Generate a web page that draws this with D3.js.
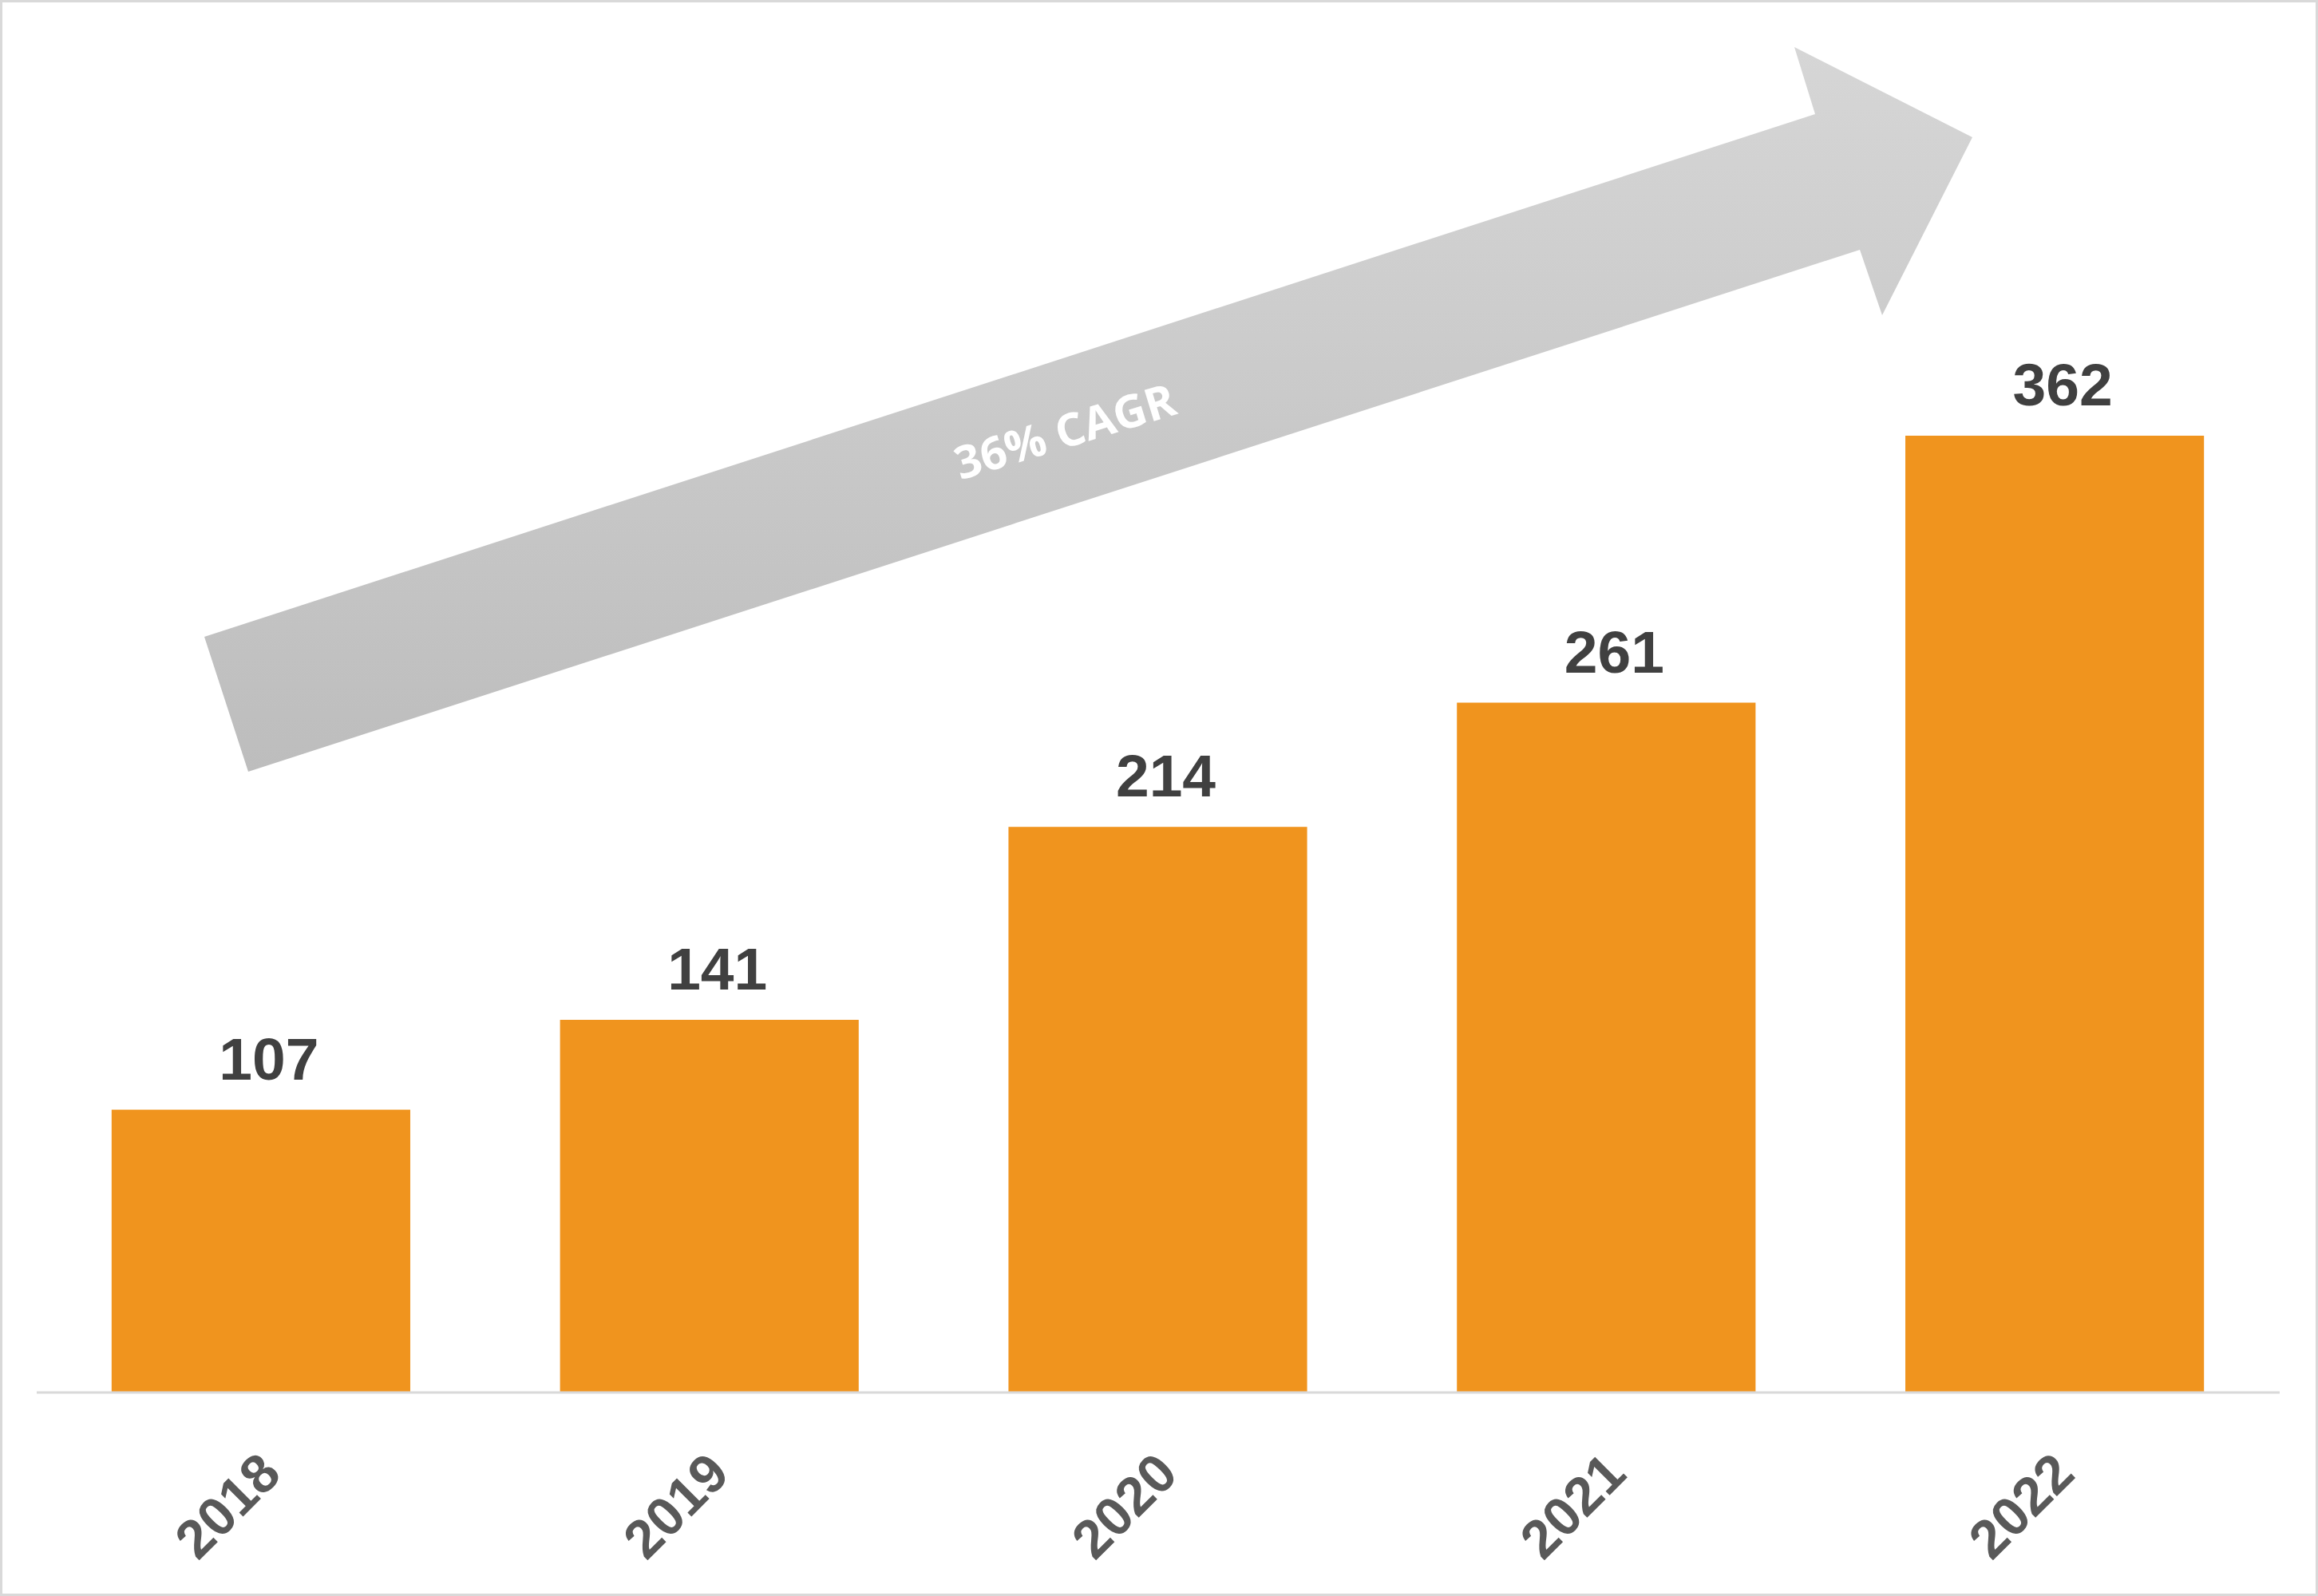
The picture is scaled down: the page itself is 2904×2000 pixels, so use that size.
<!DOCTYPE html>
<html>
<head>
<meta charset="utf-8">
<script src="https://cdn.jsdelivr.net/npm/d3@7/dist/d3.min.js"></script>
<style>
  html, body { margin: 0; padding: 0; background: #fff; }
  svg { display: block; }
  .lab { font-family: "Liberation Sans", sans-serif; font-weight: 700; }
  .cagr { font-family: "Open Sans", sans-serif; font-weight: 700; }
</style>
</head>
<body>
<script>
// ---- data ----
const categories = ["2018", "2019", "2020", "2021", "2022"];
const values = [107, 141, 214, 261, 362];
const cagrLabel = "36% CAGR";

// ---- layout ----
const W = 2904, H = 2000;
const baselineY = 1745;

const svg = d3.select("body").append("svg")
  .attr("width", W).attr("height", H);

svg.append("rect").attr("x", 1.5).attr("y", 1.5)
  .attr("width", W - 3).attr("height", H - 3)
  .attr("fill", "#fff").attr("stroke", "#d9d9d9").attr("stroke-width", 3);

const x = d3.scaleBand().domain(categories).range([46, 2855])
  .paddingInner(0.334).paddingOuter(0.167);
const y = d3.scaleLinear().domain([0, 362]).range([baselineY, 546]);

// bars
svg.append("g").selectAll("rect").data(values).join("rect")
  .attr("x", (d, i) => x(categories[i]))
  .attr("y", d => y(d))
  .attr("width", x.bandwidth())
  .attr("height", d => y(0) - y(d))
  .attr("fill", "#F0941E");

// baseline axis
const axis = svg.append("g").attr("transform", `translate(0,${baselineY})`)
  .call(d3.axisBottom(x).tickSize(0).tickFormat(""));
axis.select(".domain").attr("stroke", "#d9d9d9").attr("stroke-width", 3)
  .attr("d", "M46,0H2856");

// category labels rotated
svg.append("g").selectAll("text").data(categories).join("text")
  .attr("class", "lab")
  .attr("transform", d => `translate(${x(d) + x.bandwidth() / 2 + 28},${baselineY + 105}) rotate(-45)`)
  .attr("text-anchor", "end")
  .style("font-size", "68px")
  .attr("fill", "#595959")
  .text(d => d);

// value labels
svg.append("g").selectAll("text").data(values).join("text")
  .attr("class", "lab")
  .attr("x", (d, i) => x(categories[i]) + x.bandwidth() / 2 + 10)
  .attr("y", d => y(d) - 38)
  .attr("text-anchor", "middle")
  .style("font-size", "75px")
  .attr("fill", "#404040")
  .text(d => d);

// CAGR arrow
const defs = svg.append("defs");
const grad = defs.append("linearGradient").attr("id", "arrowGrad")
  .attr("x1", "0").attr("y1", "0").attr("x2", "0").attr("y2", "1");
grad.append("stop").attr("offset", "0%").attr("stop-color", "#d6d6d6");
grad.append("stop").attr("offset", "100%").attr("stop-color", "#bdbdbd");

const arrowPts = [
  [256, 798], [2274, 143], [2248, 59], [2471, 172],
  [2358, 395], [2330, 313], [311, 967]
];
svg.append("path")
  .attr("d", d3.line()(arrowPts) + "Z")
  .attr("fill", "url(#arrowGrad)");

svg.append("text")
  .attr("class", "cagr")
  .attr("transform", "translate(1340,560) rotate(-17)")
  .attr("text-anchor", "middle")
  .style("font-size", "57px")
  .attr("fill", "#ffffff")
  .text(cagrLabel);
</script>
</body>
</html>
